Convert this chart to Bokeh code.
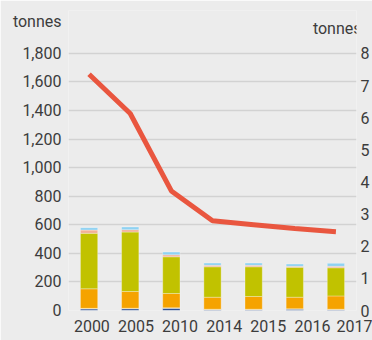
from bokeh.plotting import figure
from bokeh.models import (Range1d, LinearAxis, FixedTicker,
                          NumeralTickFormatter, Label, ColumnDataSource)
from bokeh.embed import file_html
from bokeh.resources import INLINE

# ---- data ----
years = ["2000", "2005", "2010", "2014", "2015", "2016", "2017"]
dark_blue = [10, 12, 15, 6, 6, 9, 6]
light_yellow = [5, 4, 4, 3, 3, 3, 3]
orange = [137, 117, 100, 84, 89, 81, 93]
olive = [388, 416, 257, 213, 208, 209, 197]
pink = [23, 17, 14, 10, 10, 7, 10]
light_blue = [17, 19, 19, 16, 16, 16, 21]
line_values = [7.35, 6.13, 3.72, 2.79, 2.67, 2.55, 2.45]
left_ticks = [0, 200, 400, 600, 800, 1000, 1200, 1400, 1600, 1800]
right_ticks = [0, 1, 2, 3, 4, 5, 6, 7, 8]
unit_label = "tonnes"

# ---- layout / style ----
Y_TOP = 2100          # headroom above the 1,800 gridline for the unit labels
UNIT_Y = 2020         # height of the left unit label
BG = "#ececec"
TXT = "#3c3c3c"
FONT = "Roboto"
FS = "16px"
stack_names = ["dark_blue", "light_yellow", "orange", "olive", "pink", "light_blue"]
stack_colors = ["#2d4f96", "#f7d774", "#f5a300", "#c1c200", "#f2b197", "#8fd2f2"]
LINE_COLOR = "#e9563f"

idx = list(range(len(years)))
src = ColumnDataSource(dict(i=idx, year=years, dark_blue=dark_blue,
                            light_yellow=light_yellow, orange=orange, olive=olive,
                            pink=pink, light_blue=light_blue))

p = figure(width=372, height=340, x_range=Range1d(-0.5, len(years) - 0.5),
           y_range=Range1d(0, Y_TOP),
           output_backend="svg", toolbar_location=None, x_axis_location=None,
           min_border_left=68, min_border_top=10, min_border_right=0,
           min_border_bottom=30, background_fill_color=BG, border_fill_color=BG,
           outline_line_color=None)

p.extra_y_ranges = {"right": Range1d(0, right_ticks[-1] * Y_TOP / left_ticks[-1])}
# the source chart's year labels are spaced slightly wider than its bars
p.extra_x_ranges = {"lab": Range1d(-0.53, len(years) - 1.0)}

p.vbar_stack(stack_names, x="i", width=0.42, source=src,
             fill_color=stack_colors, line_color="#ffffff", line_alpha=0.3,
             line_width=1)

p.line(x=idx, y=line_values, y_range_name="right", line_color=LINE_COLOR,
       line_width=5)

# grid
p.xgrid.visible = False
p.ygrid.ticker = FixedTicker(ticks=left_ticks)
p.ygrid.grid_line_color = "#d2d2d2"
p.ygrid.grid_line_width = 1.5

def style_axis(ax, standoff):
    ax.axis_line_color = None
    ax.major_tick_line_color = None
    ax.minor_tick_line_color = None
    ax.major_tick_in = 0
    ax.major_tick_out = 0
    ax.major_label_text_font = FONT
    ax.major_label_text_font_size = FS
    ax.major_label_text_color = TXT
    ax.major_label_standoff = standoff

# left axis (its top label is the unit)
yax = p.yaxis[0]
yax.ticker = FixedTicker(ticks=left_ticks + [UNIT_Y])
yax.formatter = NumeralTickFormatter(format="0,0")
yax.major_label_overrides = {UNIT_Y: unit_label}
style_axis(yax, 7)

# right axis
rax = LinearAxis(y_range_name="right", ticker=FixedTicker(ticks=right_ticks))
style_axis(rax, 4)
p.add_layout(rax, "right")

# bottom labels axis
bax = LinearAxis(x_range_name="lab", ticker=FixedTicker(ticks=idx),
                 major_label_overrides={i: y for i, y in zip(idx, years)})
style_axis(bax, 9)
p.add_layout(bax, "below")

# right unit label
p.add_layout(Label(x=5.44, y=1974, text=unit_label, text_font=FONT,
                   text_font_size=FS, text_color=TXT,
                   text_baseline="alphabetic", text_align="left"))

open("out.html", "w").write(file_html(p, INLINE))
